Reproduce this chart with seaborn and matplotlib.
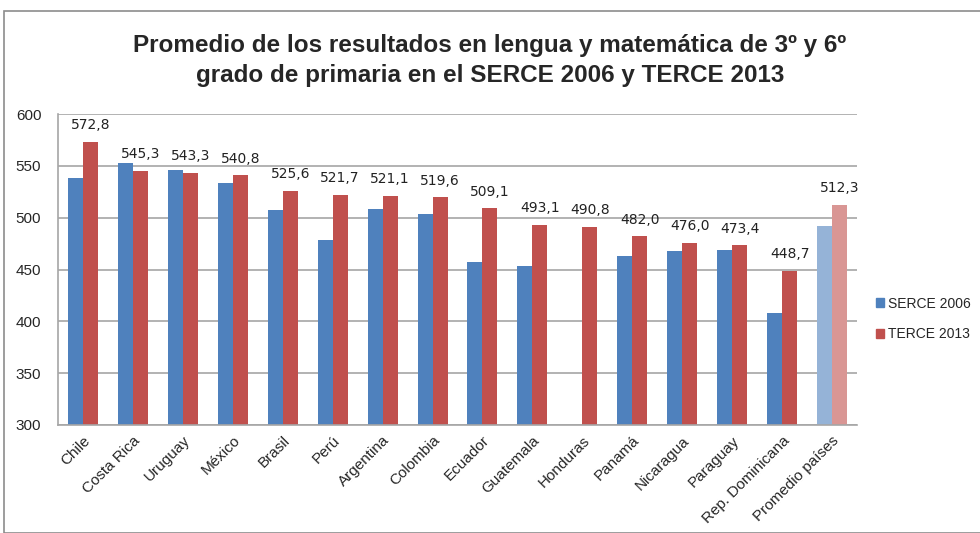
import numpy as np
import pandas as pd
import matplotlib.pyplot as plt
import seaborn as sns
from matplotlib.patches import Rectangle, Patch

paises = ['Chile', 'Costa Rica', 'Uruguay', 'México', 'Brasil', 'Perú', 'Argentina',
          'Colombia', 'Ecuador', 'Guatemala', 'Honduras', 'Panamá', 'Nicaragua',
          'Paraguay', 'Rep. Dominicana', 'Promedio países']
serce_2006 = [538.5, 552.6, 545.6, 533.0, 507.4, 478.3, 508.7, 503.9, 457.4, 452.9,
              np.nan, 463.2, 468.0, 469.0, 407.7, 492.3]
terce_2013 = [572.8, 545.3, 543.3, 540.8, 525.6, 521.7, 521.1, 519.6, 509.1, 493.1,
              490.8, 482.0, 476.0, 473.4, 448.7, 512.3]
series = ['SERCE 2006', 'TERCE 2013']

df = pd.DataFrame({
    'pais': paises * 2,
    'serie': [series[0]] * len(paises) + [series[1]] * len(paises),
    'valor': serce_2006 + terce_2013,
})

sns.set_style('white')
plt.rcParams['font.family'] = ['Liberation Sans', 'DejaVu Sans']

azul, rojo = '#4F81BD', '#C0504D'
azul_claro, rojo_claro = '#95B3D7', '#D99694'

fig = plt.figure(figsize=(9.8, 5.33), dpi=100)
ax = fig.add_axes([58 / 980, 1 - 425 / 533, 799 / 980, 311 / 533])

sns.barplot(data=df, x='pais', y='valor', hue='serie', order=paises, hue_order=series,
            palette=[azul, rojo], width=0.6, gap=0, saturation=1, linewidth=0,
            ax=ax, legend=False)

# promedio en tonos claros
ax.containers[0][-1].set_facecolor(azul_claro)
ax.containers[1][-1].set_facecolor(rojo_claro)

ax.bar_label(ax.containers[1], labels=[f'{v:.1f}'.replace('.', ',') for v in terce_2013],
             padding=7, fontsize=10, family=['DejaVu Sans'], color='#222222')

ax.set_ylim(300, 600)
ax.set_yticks(range(300, 601, 50))
ax.set_xlim(-0.5, len(paises) - 0.5)
ax.yaxis.grid(True, color='#A6A6A6', linewidth=1.2)
ax.set_axisbelow(True)
ax.set_xlabel('')
ax.set_ylabel('')
for s in ['top', 'right']:
    ax.spines[s].set_visible(False)
for s in ['left', 'bottom']:
    ax.spines[s].set_color('#A6A6A6')
    ax.spines[s].set_linewidth(1.2)
ax.tick_params(axis='both', length=0, labelsize=11)
ax.tick_params(axis='y', pad=12)
plt.setp(ax.get_xticklabels(), rotation=45, ha='right', rotation_mode='anchor')
ax.tick_params(axis='x', pad=6)

fig.text(0.5, 0.887, 'Promedio de los resultados en lengua y matemática de 3º y 6º\n'
         'grado de primaria en el SERCE 2006 y TERCE 2013',
         ha='center', va='center', fontsize=17.5, fontweight='bold', linespacing=1.4)

handles = [Patch(color=azul, label=series[0]), Patch(color=rojo, label=series[1])]
fig.legend(handles=handles, loc='center left', bbox_to_anchor=(876 / 980, 1 - 319 / 533),
           frameon=False, fontsize=10, handlelength=0.6, handleheight=0.6,
           handletextpad=0.3, labelspacing=1.2, borderaxespad=0, borderpad=0)

fig.patches.append(Rectangle((4 / 980, 0), 1.2, 1 - 11 / 533, transform=fig.transFigure,
                             fill=False, edgecolor='#8C8C8C', linewidth=1.2))

fig.savefig('out.png', dpi=100)
